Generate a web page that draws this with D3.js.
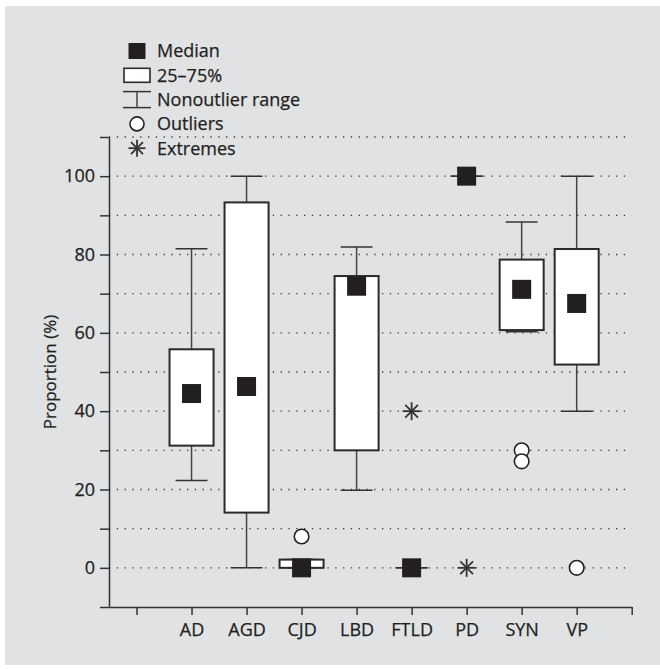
<!DOCTYPE html>
<html>
<head>
<meta charset="utf-8">
<script src="https://cdn.jsdelivr.net/npm/d3@7"></script>
<style>
  html, body { margin: 0; padding: 0; background: #fff; }
  svg text { font-family: "Open Sans", sans-serif; fill: #231f20; stroke: #231f20; stroke-width: 0.25px; }
</style>
</head>
<body>
<div id="chart"></div>
<script>
// category order on the x axis (tick 0 and tick 9 carry no label)
const categories = ["AD", "AGD", "CJD", "LBD", "FTLD", "PD", "SYN", "VP"];
// box plot statistics, proportion (%)
const whiskerLow  = [22.3,  0,   0,   19.8, 0, 100, 60.3, 40];
const q1          = [31.2, 14.1, 0,   30.0, 0, 100, 60.7, 51.9];
const medians     = [44.5, 46.3, 0,   71.9, 0, 100, 71.1, 67.5];
const q3          = [55.8, 93.3, 2.1, 74.5, 0, 100, 78.7, 81.4];
const whiskerHigh = [81.5, 100,  2.1, 81.9, 0, 100, 88.3, 100];
const outliers    = [[], [], [8], [], [], [], [30, 27.2], [0]];
const extremes    = [[], [], [], [], [40], [0], [], []];
const yTicks = [-10, 0, 10, 20, 30, 40, 50, 60, 70, 80, 90, 100, 110];
const yLabels = [0, 20, 40, 60, 80, 100];
const legendItems = ["Median", "25\u201375%", "Nonoutlier range", "Outliers", "Extremes"];

const W = 660, H = 669;
const ink = "#231f20";

const svg = d3.select("#chart").append("svg")
  .attr("width", W)
  .attr("height", H);

// grey panel
svg.append("rect")
  .attr("x", 5).attr("y", 6)
  .attr("width", 655).attr("height", 659)
  .attr("fill", "#e1e2e4");

const x = d3.scaleLinear().domain([-0.5, 9]).range([109, 631.7]);
const y = d3.scaleLinear().domain([-10, 110]).range([607, 137]);
const step = x(1) - x(0);

// dotted gridlines
svg.append("g")
  .selectAll("line")
  .data(yTicks.filter(d => d >= 0))
  .join("line")
  .attr("x1", x(-0.5)).attr("x2", x(9))
  .attr("y1", d => y(d)).attr("y2", d => y(d))
  .attr("stroke", "#3a3a3a")
  .attr("stroke-width", 1.3)
  .attr("stroke-dasharray", "1.3,6.5");

// axes
const yAxis = svg.append("g")
  .attr("transform", "translate(" + x(-0.5) + ",0)")
  .call(d3.axisLeft(y).tickValues(yTicks).tickSize(9).tickSizeOuter(0)
    .tickFormat(d => yLabels.includes(d) ? d : ""));

const xAxis = svg.append("g")
  .attr("transform", "translate(0," + y(-10) + ")")
  .call(d3.axisBottom(x).tickValues(d3.range(0, 10)).tickSize(8).tickSizeOuter(0)
    .tickFormat(d => categories[d - 1] || ""));

[yAxis, xAxis].forEach(g => {
  g.select(".domain").attr("stroke", "#333").attr("stroke-width", 1.5);
  g.selectAll(".tick line").attr("stroke", "#333").attr("stroke-width", 1.5);
  g.selectAll(".tick text")
    .attr("font-size", 18)
    .attr("font-family", "Open Sans")
    .attr("fill", ink);
});
yAxis.selectAll(".tick text").attr("x", -14);
xAxis.selectAll(".tick text").attr("dy", "1.05em").attr("y", 10);

svg.append("text")
  .attr("transform", "translate(56," + y(50) + ") rotate(-90)")
  .attr("text-anchor", "middle")
  .attr("font-size", 17)
  .text("Proportion (%)");

// boxes
const rows = categories.map((c, i) => ({
  pos: i + 1, lo: whiskerLow[i], q1: q1[i], med: medians[i], q3: q3[i], hi: whiskerHigh[i],
  out: outliers[i], ext: extremes[i]
}));

const boxHalf = step * 0.4;
const capHalf = step * 0.29;

const g = svg.append("g");
const box = g.selectAll("g.box").data(rows).join("g").attr("class", "box");

box.append("line")
  .attr("x1", d => x(d.pos)).attr("x2", d => x(d.pos))
  .attr("y1", d => y(d.lo)).attr("y2", d => y(d.hi))
  .attr("stroke", "#444").attr("stroke-width", 1.5);

box.selectAll("line.cap")
  .data(d => [{ p: d.pos, v: d.lo }, { p: d.pos, v: d.hi }])
  .join("line")
  .attr("class", "cap")
  .attr("x1", d => x(d.p) - capHalf).attr("x2", d => x(d.p) + capHalf)
  .attr("y1", d => y(d.v)).attr("y2", d => y(d.v))
  .attr("stroke", "#333").attr("stroke-width", 1.5);

box.append("rect")
  .attr("x", d => x(d.pos) - boxHalf)
  .attr("width", boxHalf * 2)
  .attr("y", d => y(d.q3))
  .attr("height", d => y(d.q1) - y(d.q3))
  .attr("fill", "#fff")
  .attr("stroke", "#2a2a2a")
  .attr("stroke-width", d => d.q3 === d.q1 ? 3 : 2);

box.append("rect")
  .attr("x", d => x(d.pos) - 9.5)
  .attr("y", d => y(d.med) - 9.5)
  .attr("width", 19).attr("height", 19)
  .attr("fill", ink);

box.selectAll("circle")
  .data(d => d.out.map(v => ({ p: d.pos, v })))
  .join("circle")
  .attr("cx", d => x(d.p)).attr("cy", d => y(d.v))
  .attr("r", 7.3)
  .attr("fill", "#fff")
  .attr("stroke", "#222").attr("stroke-width", 1.6);

function asterisk(sel, r) {
  [0, 45, 90, 135].forEach(a => {
    const rad = a * Math.PI / 180;
    sel.append("line")
      .attr("x1", -r * Math.cos(rad)).attr("y1", -r * Math.sin(rad))
      .attr("x2", r * Math.cos(rad)).attr("y2", r * Math.sin(rad))
      .attr("stroke", "#333").attr("stroke-width", 1.8);
  });
}

box.selectAll("g.ext")
  .data(d => d.ext.map(v => ({ p: d.pos, v })))
  .join("g")
  .attr("class", "ext")
  .attr("transform", d => "translate(" + x(d.p) + "," + y(d.v) + ")")
  .each(function () { asterisk(d3.select(this), 9); });

// legend
const lx = 137, ly0 = 51, ldy = 24.3;
const legend = svg.append("g");
legend.append("rect").attr("x", lx - 8.5).attr("y", ly0 - 8).attr("width", 17).attr("height", 16).attr("fill", ink);
legend.append("rect").attr("x", lx - 13).attr("y", ly0 + ldy - 7).attr("width", 26).attr("height", 14)
  .attr("fill", "#fff").attr("stroke", "#2a2a2a").attr("stroke-width", 1.6);
const ry = ly0 + 2 * ldy;
legend.append("line").attr("x1", lx - 14).attr("x2", lx + 14).attr("y1", ry - 8).attr("y2", ry - 8).attr("stroke", "#333").attr("stroke-width", 1.5);
legend.append("line").attr("x1", lx - 14).attr("x2", lx + 14).attr("y1", ry + 8).attr("y2", ry + 8).attr("stroke", "#333").attr("stroke-width", 1.5);
legend.append("line").attr("x1", lx).attr("x2", lx).attr("y1", ry - 8).attr("y2", ry + 8).attr("stroke", "#444").attr("stroke-width", 1.5);
legend.append("circle").attr("cx", lx).attr("cy", ly0 + 3 * ldy).attr("r", 7)
  .attr("fill", "#fff").attr("stroke", "#222").attr("stroke-width", 1.6);
asterisk(legend.append("g").attr("transform", "translate(" + lx + "," + (ly0 + 4 * ldy) + ")"), 8.5);

legend.selectAll("text")
  .data(legendItems)
  .join("text")
  .attr("x", 157)
  .attr("y", (d, i) => ly0 + i * ldy)
  .attr("dy", "0.36em")
  .attr("font-size", 18)
  .text(d => d);
</script>
</body>
</html>
